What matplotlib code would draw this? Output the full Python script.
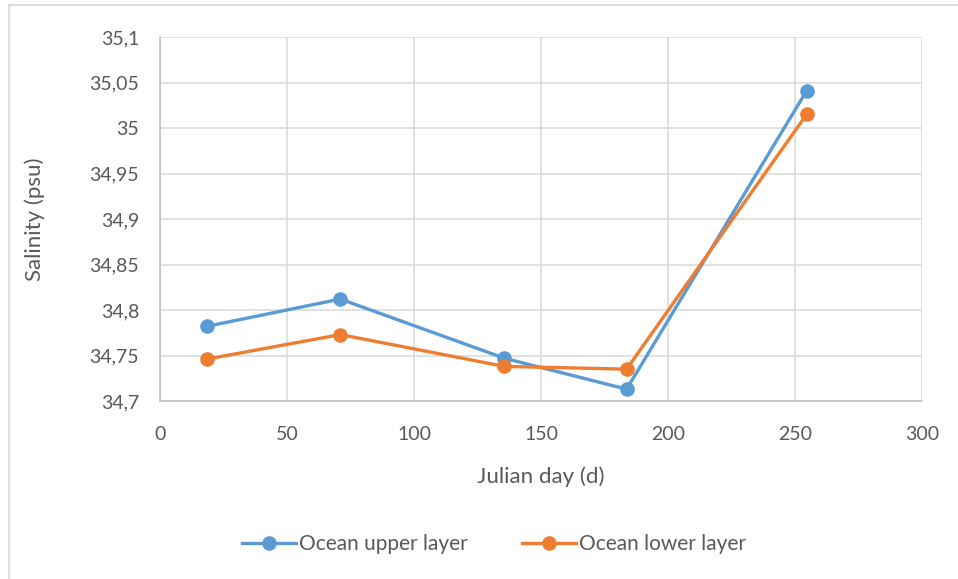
import matplotlib
matplotlib.use("Agg")
import matplotlib.pyplot as plt
from matplotlib.lines import Line2D
from matplotlib.ticker import FuncFormatter

plt.rcParams['font.family'] = ['Lato', 'DejaVu Sans']

days = [18.4, 71.0, 135.6, 183.7, 254.6]
upper = [34.782, 34.812, 34.747, 34.713, 35.041]
lower = [34.746, 34.773, 34.738, 34.735, 35.015]
series_names = ["Ocean upper layer", "Ocean lower layer"]
x_ticks = [0, 50, 100, 150, 200, 250, 300]
y_ticks = [34.7, 34.75, 34.8, 34.85, 34.9, 34.95, 35.0, 35.05, 35.1]

BLUE = "#5B9BD5"
ORANGE = "#ED7D31"
TXT = "#595959"
GRID = "#D9D9D9"

fig = plt.figure(figsize=(9.58, 5.79), dpi=100)
ax = fig.add_axes([160/958, 1-401/579, (922-160)/958, (401-37)/579])

for ys, c, name in [(upper, BLUE, series_names[0]), (lower, ORANGE, series_names[1])]:
    ax.plot(days, ys, color=c, lw=2.4, marker='o', ms=9.5, label=name,
            solid_capstyle='round', zorder=3)

ax.set_xlim(0, 300)
ax.set_ylim(34.7, 35.1)
ax.set_xticks(x_ticks)
ax.set_yticks(y_ticks)

def yfmt(v, p):
    s = ('%.2f' % v).rstrip('0').rstrip('.')
    return s.replace('.', ',')
ax.yaxis.set_major_formatter(FuncFormatter(yfmt))

ax.grid(True, color=GRID, lw=1.1, zorder=0)
ax.set_axisbelow(True)
for s in ['top', 'right']:
    ax.spines[s].set_visible(False)
for s in ['left', 'bottom']:
    ax.spines[s].set_color('#BFBFBF')
    ax.spines[s].set_linewidth(1.1)
ax.tick_params(length=0, labelsize=14, colors=TXT)
ax.tick_params(axis='y', pad=15)
ax.tick_params(axis='x', pad=18)

ax.set_xlabel("Julian day (d)", fontsize=16, color=TXT, labelpad=17)
ax.set_ylabel("Salinity (psu)", fontsize=16, color=TXT, labelpad=32)

handles = [Line2D([], [], color=BLUE, lw=2.4, marker='o', ms=9.5),
           Line2D([], [], color=ORANGE, lw=2.4, marker='o', ms=9.5)]
fig.legend(handles, series_names, loc='center', bbox_to_anchor=(494/958, 1-544/579),
           ncol=2, frameon=False, fontsize=15, labelcolor=TXT,
           handlelength=2.6, handletextpad=0.15, columnspacing=2.6)

# outer chart frame (left and top edges visible)
fig.add_artist(Line2D([9/958, 9/958], [0, 1-5/579], color='#D9D9D9', lw=1.2))
fig.add_artist(Line2D([9/958, 1], [1-5/579, 1-5/579], color='#D9D9D9', lw=1.2))

fig.savefig("out.png", dpi=100, facecolor='white')
